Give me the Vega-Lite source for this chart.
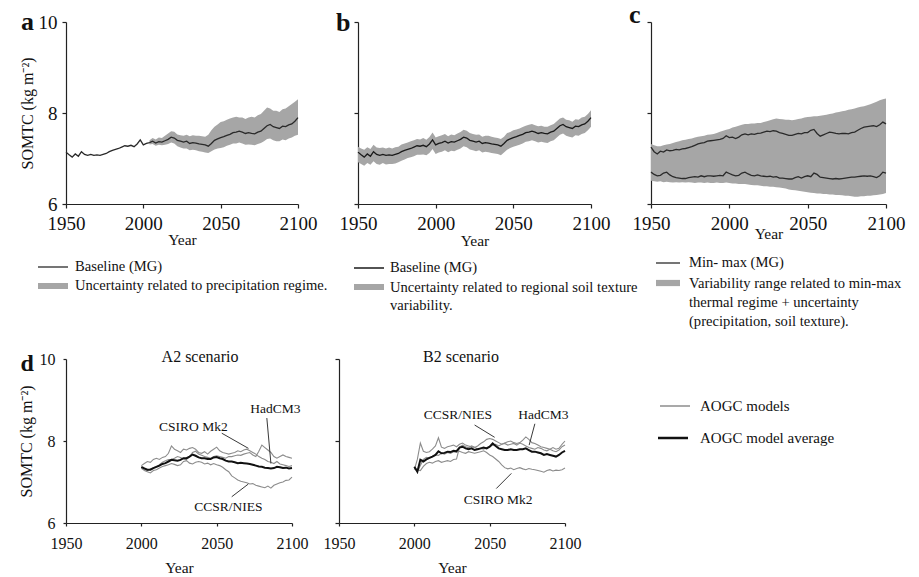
{
  "$schema": "https://vega.github.io/schema/vega-lite/v6.json",
  "background": "white",
  "padding": {"left": 18, "top": 2, "right": 5, "bottom": 0},
  "config": {
    "font": "Liberation Serif",
    "view": {"stroke": null},
    "axis": {"labelFont": "Liberation Serif", "titleFont": "Liberation Serif", "labelColor": "#111", "titleColor": "#111", "domainColor": "#222", "tickColor": "#222", "domainWidth": 1.2, "tickWidth": 1.2, "grid": false, "titleFontWeight": "normal", "labelFlush": false, "labelOverlap": false},
    "title": {"font": "Liberation Serif", "color": "#111"},
    "legend": {"labelFont": "Liberation Serif", "labelColor": "#111", "labelLimit": 400, "title": null, "orient": "none"}
  },
  "datasets": {
    "top": [
      {"t":1950,"m":7.14,"bl":6.92,"bh":7.26,"cx":7.25,"cn":6.70,"cl":6.51,"ch":7.32},
      {"t":1952,"m":7.08,"bl":6.88,"bh":7.22,"cx":7.15,"cn":6.65,"cl":6.50,"ch":7.29},
      {"t":1954,"m":7.03,"bl":6.84,"bh":7.19,"cx":7.10,"cn":6.62,"cl":6.49,"ch":7.27},
      {"t":1956,"m":7.10,"bl":6.90,"bh":7.25,"cx":7.16,"cn":6.63,"cl":6.50,"ch":7.27},
      {"t":1958,"m":7.05,"bl":6.86,"bh":7.21,"cx":7.14,"cn":6.68,"cl":6.48,"ch":7.29},
      {"t":1960,"m":7.15,"bl":6.94,"bh":7.30,"cx":7.19,"cn":6.70,"cl":6.49,"ch":7.31},
      {"t":1962,"m":7.09,"bl":6.88,"bh":7.24,"cx":7.17,"cn":6.64,"cl":6.48,"ch":7.32},
      {"t":1964,"m":7.07,"bl":6.86,"bh":7.23,"cx":7.18,"cn":6.60,"cl":6.47,"ch":7.34},
      {"t":1966,"m":7.09,"bl":6.90,"bh":7.24,"cx":7.20,"cn":6.58,"cl":6.48,"ch":7.36},
      {"t":1968,"m":7.07,"bl":6.87,"bh":7.22,"cx":7.19,"cn":6.57,"cl":6.47,"ch":7.38},
      {"t":1970,"m":7.08,"bl":6.88,"bh":7.24,"cx":7.21,"cn":6.56,"cl":6.48,"ch":7.40},
      {"t":1972,"m":7.07,"bl":6.88,"bh":7.22,"cx":7.22,"cn":6.56,"cl":6.47,"ch":7.41},
      {"t":1974,"m":7.09,"bl":6.89,"bh":7.25,"cx":7.24,"cn":6.58,"cl":6.48,"ch":7.43},
      {"t":1976,"m":7.11,"bl":6.92,"bh":7.26,"cx":7.26,"cn":6.59,"cl":6.47,"ch":7.44},
      {"t":1978,"m":7.15,"bl":6.95,"bh":7.31,"cx":7.29,"cn":6.60,"cl":6.46,"ch":7.46},
      {"t":1980,"m":7.18,"bl":6.98,"bh":7.33,"cx":7.32,"cn":6.59,"cl":6.47,"ch":7.48},
      {"t":1982,"m":7.20,"bl":7.01,"bh":7.35,"cx":7.34,"cn":6.62,"cl":6.47,"ch":7.49},
      {"t":1984,"m":7.22,"bl":7.03,"bh":7.38,"cx":7.35,"cn":6.60,"cl":6.46,"ch":7.50},
      {"t":1986,"m":7.25,"bl":7.05,"bh":7.40,"cx":7.38,"cn":6.62,"cl":6.47,"ch":7.52},
      {"t":1988,"m":7.28,"bl":7.08,"bh":7.43,"cx":7.39,"cn":6.62,"cl":6.46,"ch":7.53},
      {"t":1990,"m":7.27,"bl":7.08,"bh":7.42,"cx":7.40,"cn":6.61,"cl":6.46,"ch":7.54},
      {"t":1992,"m":7.29,"bl":7.09,"bh":7.45,"cx":7.41,"cn":6.62,"cl":6.47,"ch":7.56},
      {"t":1994,"m":7.26,"bl":7.07,"bh":7.41,"cx":7.42,"cn":6.63,"cl":6.46,"ch":7.59},
      {"t":1996,"m":7.32,"bl":7.12,"bh":7.47,"cx":7.44,"cn":6.62,"cl":6.46,"ch":7.61},
      {"t":1998,"m":7.41,"bl":7.21,"bh":7.57,"cx":7.50,"cn":6.70,"cl":6.47,"ch":7.63},
      {"t":2000,"m":7.30,"bl":7.10,"bh":7.46,"cx":7.46,"cn":6.67,"cl":6.46,"ch":7.65},
      {"t":2002,"m":7.33,"bl":7.13,"bh":7.49,"cx":7.47,"cn":6.64,"cl":6.45,"ch":7.68},
      {"t":2004,"m":7.35,"al":7.31,"ah":7.40,"bl":7.15,"bh":7.51,"cx":7.44,"cn":6.62,"cl":6.45,"ch":7.70},
      {"t":2006,"m":7.38,"al":7.32,"ah":7.45,"bl":7.18,"bh":7.54,"cx":7.47,"cn":6.63,"cl":6.44,"ch":7.72},
      {"t":2008,"m":7.34,"al":7.28,"ah":7.42,"bl":7.14,"bh":7.49,"cx":7.52,"cn":6.68,"cl":6.44,"ch":7.74},
      {"t":2010,"m":7.37,"al":7.30,"ah":7.46,"bl":7.17,"bh":7.53,"cx":7.54,"cn":6.70,"cl":6.44,"ch":7.76},
      {"t":2012,"m":7.36,"al":7.29,"ah":7.45,"bl":7.16,"bh":7.51,"cx":7.52,"cn":6.66,"cl":6.43,"ch":7.76},
      {"t":2014,"m":7.39,"al":7.30,"ah":7.50,"bl":7.19,"bh":7.55,"cx":7.54,"cn":6.63,"cl":6.42,"ch":7.77},
      {"t":2016,"m":7.42,"al":7.32,"ah":7.55,"bl":7.22,"bh":7.58,"cx":7.53,"cn":6.62,"cl":6.41,"ch":7.77},
      {"t":2018,"m":7.47,"al":7.35,"ah":7.60,"bl":7.27,"bh":7.63,"cx":7.55,"cn":6.64,"cl":6.41,"ch":7.78},
      {"t":2020,"m":7.45,"al":7.33,"ah":7.59,"bl":7.25,"bh":7.61,"cx":7.56,"cn":6.62,"cl":6.40,"ch":7.78},
      {"t":2022,"m":7.40,"al":7.27,"ah":7.53,"bl":7.20,"bh":7.56,"cx":7.58,"cn":6.61,"cl":6.39,"ch":7.80},
      {"t":2024,"m":7.38,"al":7.24,"ah":7.51,"bl":7.18,"bh":7.54,"cx":7.60,"cn":6.60,"cl":6.39,"ch":7.82},
      {"t":2026,"m":7.36,"al":7.22,"ah":7.50,"bl":7.16,"bh":7.52,"cx":7.59,"cn":6.61,"cl":6.38,"ch":7.84},
      {"t":2028,"m":7.38,"al":7.22,"ah":7.52,"bl":7.18,"bh":7.53,"cx":7.61,"cn":6.59,"cl":6.38,"ch":7.86},
      {"t":2030,"m":7.33,"al":7.18,"ah":7.49,"bl":7.13,"bh":7.48,"cx":7.60,"cn":6.60,"cl":6.37,"ch":7.88},
      {"t":2032,"m":7.35,"al":7.19,"ah":7.51,"bl":7.15,"bh":7.50,"cx":7.57,"cn":6.57,"cl":6.36,"ch":7.87},
      {"t":2034,"m":7.34,"al":7.18,"ah":7.50,"bl":7.14,"bh":7.50,"cx":7.55,"cn":6.57,"cl":6.35,"ch":7.86},
      {"t":2036,"m":7.32,"al":7.16,"ah":7.50,"bl":7.12,"bh":7.48,"cx":7.53,"cn":6.56,"cl":6.34,"ch":7.85},
      {"t":2038,"m":7.31,"al":7.15,"ah":7.49,"bl":7.11,"bh":7.46,"cx":7.51,"cn":6.55,"cl":6.32,"ch":7.85},
      {"t":2040,"m":7.30,"al":7.13,"ah":7.48,"bl":7.10,"bh":7.45,"cx":7.51,"cn":6.55,"cl":6.31,"ch":7.84},
      {"t":2042,"m":7.27,"al":7.12,"ah":7.52,"bl":7.07,"bh":7.43,"cx":7.53,"cn":6.58,"cl":6.30,"ch":7.85},
      {"t":2044,"m":7.33,"al":7.16,"ah":7.62,"bl":7.13,"bh":7.48,"cx":7.55,"cn":6.60,"cl":6.29,"ch":7.87},
      {"t":2046,"m":7.40,"al":7.20,"ah":7.70,"bl":7.19,"bh":7.56,"cx":7.54,"cn":6.57,"cl":6.28,"ch":7.88},
      {"t":2048,"m":7.43,"al":7.22,"ah":7.75,"bl":7.23,"bh":7.58,"cx":7.57,"cn":6.60,"cl":6.27,"ch":7.90},
      {"t":2050,"m":7.46,"al":7.23,"ah":7.80,"bl":7.26,"bh":7.62,"cx":7.57,"cn":6.62,"cl":6.26,"ch":7.91},
      {"t":2052,"m":7.48,"al":7.25,"ah":7.82,"bl":7.28,"bh":7.64,"cx":7.62,"cn":6.60,"cl":6.25,"ch":7.92},
      {"t":2054,"m":7.51,"al":7.28,"ah":7.85,"bl":7.30,"bh":7.66,"cx":7.64,"cn":6.68,"cl":6.24,"ch":7.93},
      {"t":2056,"m":7.53,"al":7.30,"ah":7.88,"bl":7.33,"bh":7.69,"cx":7.55,"cn":6.65,"cl":6.23,"ch":7.93},
      {"t":2058,"m":7.57,"al":7.33,"ah":7.90,"bl":7.37,"bh":7.72,"cx":7.49,"cn":6.59,"cl":6.23,"ch":7.94},
      {"t":2060,"m":7.58,"al":7.33,"ah":7.92,"bl":7.38,"bh":7.74,"cx":7.52,"cn":6.58,"cl":6.22,"ch":7.95},
      {"t":2062,"m":7.60,"al":7.35,"ah":7.90,"bl":7.40,"bh":7.76,"cx":7.55,"cn":6.57,"cl":6.22,"ch":7.96},
      {"t":2064,"m":7.58,"al":7.33,"ah":7.90,"bl":7.38,"bh":7.73,"cx":7.58,"cn":6.56,"cl":6.21,"ch":7.98},
      {"t":2066,"m":7.55,"al":7.30,"ah":7.87,"bl":7.35,"bh":7.71,"cx":7.57,"cn":6.55,"cl":6.21,"ch":7.99},
      {"t":2068,"m":7.57,"al":7.31,"ah":7.90,"bl":7.37,"bh":7.72,"cx":7.55,"cn":6.56,"cl":6.20,"ch":8.01},
      {"t":2070,"m":7.55,"al":7.30,"ah":7.92,"bl":7.35,"bh":7.70,"cx":7.54,"cn":6.55,"cl":6.20,"ch":8.02},
      {"t":2072,"m":7.54,"al":7.29,"ah":7.90,"bl":7.34,"bh":7.70,"cx":7.55,"cn":6.56,"cl":6.19,"ch":8.04},
      {"t":2074,"m":7.58,"al":7.32,"ah":7.95,"bl":7.38,"bh":7.73,"cx":7.55,"cn":6.57,"cl":6.18,"ch":8.05},
      {"t":2076,"m":7.60,"al":7.34,"ah":7.98,"bl":7.40,"bh":7.76,"cx":7.54,"cn":6.58,"cl":6.18,"ch":8.07},
      {"t":2078,"m":7.66,"al":7.38,"ah":8.05,"bl":7.46,"bh":7.82,"cx":7.57,"cn":6.59,"cl":6.17,"ch":8.08},
      {"t":2080,"m":7.72,"al":7.43,"ah":8.12,"bl":7.52,"bh":7.88,"cx":7.58,"cn":6.59,"cl":6.16,"ch":8.10},
      {"t":2082,"m":7.75,"al":7.44,"ah":8.10,"bl":7.55,"bh":7.90,"cx":7.62,"cn":6.60,"cl":6.16,"ch":8.12},
      {"t":2084,"m":7.70,"al":7.40,"ah":8.05,"bl":7.50,"bh":7.85,"cx":7.66,"cn":6.61,"cl":6.17,"ch":8.14},
      {"t":2086,"m":7.68,"al":7.38,"ah":8.05,"bl":7.48,"bh":7.84,"cx":7.69,"cn":6.62,"cl":6.17,"ch":8.15},
      {"t":2088,"m":7.66,"al":7.38,"ah":8.02,"bl":7.46,"bh":7.81,"cx":7.70,"cn":6.61,"cl":6.18,"ch":8.17},
      {"t":2090,"m":7.71,"al":7.42,"ah":8.08,"bl":7.51,"bh":7.86,"cx":7.71,"cn":6.62,"cl":6.18,"ch":8.19},
      {"t":2092,"m":7.70,"al":7.40,"ah":8.10,"bl":7.50,"bh":7.85,"cx":7.72,"cn":6.60,"cl":6.19,"ch":8.22},
      {"t":2094,"m":7.74,"al":7.44,"ah":8.15,"bl":7.54,"bh":7.90,"cx":7.70,"cn":6.58,"cl":6.20,"ch":8.25},
      {"t":2096,"m":7.76,"al":7.46,"ah":8.20,"bl":7.56,"bh":7.92,"cx":7.74,"cn":6.62,"cl":6.21,"ch":8.28},
      {"t":2098,"m":7.82,"al":7.50,"ah":8.25,"bl":7.62,"bh":7.98,"cx":7.80,"cn":6.70,"cl":6.22,"ch":8.30},
      {"t":2100,"m":7.90,"al":7.52,"ah":8.30,"bl":7.70,"bh":8.06,"cx":7.76,"cn":6.68,"cl":6.24,"ch":8.32}
    ],
    "bot": [
      {"t":2000,"a1":7.33,"a2":7.40,"a3":7.35,"aa":7.37,"b1":7.35,"b2":7.35,"b3":7.30,"ba":7.37},
      {"t":2002,"a1":7.30,"a2":7.45,"a3":7.28,"aa":7.33,"b1":7.30,"b2":7.25,"b3":7.55,"ba":7.25},
      {"t":2004,"a1":7.28,"a2":7.50,"a3":7.25,"aa":7.30,"b1":7.28,"b2":7.40,"b3":7.95,"ba":7.54},
      {"t":2006,"a1":7.32,"a2":7.48,"a3":7.22,"aa":7.30,"b1":7.38,"b2":7.55,"b3":7.75,"ba":7.50},
      {"t":2008,"a1":7.35,"a2":7.55,"a3":7.28,"aa":7.34,"b1":7.45,"b2":7.60,"b3":7.72,"ba":7.55},
      {"t":2010,"a1":7.38,"a2":7.58,"a3":7.30,"aa":7.37,"b1":7.48,"b2":7.58,"b3":7.74,"ba":7.59},
      {"t":2012,"a1":7.42,"a2":7.55,"a3":7.34,"aa":7.40,"b1":7.46,"b2":7.62,"b3":7.80,"ba":7.62},
      {"t":2014,"a1":7.48,"a2":7.60,"a3":7.38,"aa":7.44,"b1":7.50,"b2":7.66,"b3":7.88,"ba":7.66},
      {"t":2016,"a1":7.52,"a2":7.62,"a3":7.40,"aa":7.46,"b1":7.52,"b2":7.65,"b3":8.08,"ba":7.75},
      {"t":2018,"a1":7.55,"a2":7.70,"a3":7.42,"aa":7.50,"b1":7.48,"b2":7.70,"b3":7.85,"ba":7.70},
      {"t":2020,"a1":7.55,"a2":7.88,"a3":7.45,"aa":7.54,"b1":7.50,"b2":7.68,"b3":7.82,"ba":7.71},
      {"t":2022,"a1":7.58,"a2":7.80,"a3":7.43,"aa":7.53,"b1":7.52,"b2":7.72,"b3":7.86,"ba":7.74},
      {"t":2024,"a1":7.62,"a2":7.76,"a3":7.40,"aa":7.52,"b1":7.50,"b2":7.70,"b3":7.88,"ba":7.73},
      {"t":2026,"a1":7.60,"a2":7.72,"a3":7.42,"aa":7.54,"b1":7.55,"b2":7.74,"b3":7.90,"ba":7.76},
      {"t":2028,"a1":7.56,"a2":7.80,"a3":7.50,"aa":7.58,"b1":7.56,"b2":7.72,"b3":7.86,"ba":7.75},
      {"t":2030,"a1":7.55,"a2":7.78,"a3":7.52,"aa":7.58,"b1":7.85,"b2":7.75,"b3":7.92,"ba":7.84},
      {"t":2032,"a1":7.62,"a2":7.82,"a3":7.46,"aa":7.62,"b1":7.90,"b2":7.72,"b3":7.95,"ba":7.86},
      {"t":2034,"a1":7.72,"a2":7.84,"a3":7.44,"aa":7.67,"b1":7.86,"b2":7.70,"b3":7.90,"ba":7.82},
      {"t":2036,"a1":7.75,"a2":7.80,"a3":7.48,"aa":7.64,"b1":7.84,"b2":7.74,"b3":7.88,"ba":7.80},
      {"t":2038,"a1":7.68,"a2":7.72,"a3":7.50,"aa":7.60,"b1":7.88,"b2":7.72,"b3":7.86,"ba":7.82},
      {"t":2040,"a1":7.65,"a2":7.70,"a3":7.48,"aa":7.58,"b1":7.85,"b2":7.70,"b3":7.84,"ba":7.78},
      {"t":2042,"a1":7.62,"a2":7.74,"a3":7.44,"aa":7.58,"b1":7.80,"b2":7.72,"b3":7.88,"ba":7.80},
      {"t":2044,"a1":7.60,"a2":7.68,"a3":7.46,"aa":7.56,"b1":7.82,"b2":7.74,"b3":7.94,"ba":7.82},
      {"t":2046,"a1":7.58,"a2":7.75,"a3":7.42,"aa":7.56,"b1":7.80,"b2":7.76,"b3":7.98,"ba":7.84},
      {"t":2048,"a1":7.62,"a2":7.80,"a3":7.45,"aa":7.60,"b1":7.84,"b2":7.72,"b3":8.04,"ba":7.82},
      {"t":2050,"a1":7.64,"a2":7.85,"a3":7.42,"aa":7.61,"b1":7.86,"b2":7.66,"b3":8.06,"ba":7.86},
      {"t":2052,"a1":7.62,"a2":7.76,"a3":7.40,"aa":7.58,"b1":7.90,"b2":7.62,"b3":8.04,"ba":7.94},
      {"t":2054,"a1":7.60,"a2":7.72,"a3":7.36,"aa":7.56,"b1":7.92,"b2":7.56,"b3":8.00,"ba":7.88},
      {"t":2056,"a1":7.58,"a2":7.70,"a3":7.30,"aa":7.52,"b1":7.88,"b2":7.50,"b3":7.96,"ba":7.82},
      {"t":2058,"a1":7.62,"a2":7.68,"a3":7.25,"aa":7.50,"b1":7.92,"b2":7.42,"b3":7.92,"ba":7.80},
      {"t":2060,"a1":7.62,"a2":7.70,"a3":7.15,"aa":7.50,"b1":7.95,"b2":7.35,"b3":7.94,"ba":7.78},
      {"t":2062,"a1":7.64,"a2":7.72,"a3":7.10,"aa":7.48,"b1":7.98,"b2":7.32,"b3":7.90,"ba":7.78},
      {"t":2064,"a1":7.66,"a2":7.76,"a3":7.05,"aa":7.46,"b1":8.00,"b2":7.34,"b3":7.92,"ba":7.80},
      {"t":2066,"a1":7.65,"a2":7.74,"a3":7.02,"aa":7.47,"b1":7.96,"b2":7.30,"b3":7.94,"ba":7.78},
      {"t":2068,"a1":7.68,"a2":7.78,"a3":7.00,"aa":7.46,"b1":7.94,"b2":7.33,"b3":7.90,"ba":7.78},
      {"t":2070,"a1":7.70,"a2":7.80,"a3":6.98,"aa":7.45,"b1":7.96,"b2":7.35,"b3":7.95,"ba":7.80},
      {"t":2072,"a1":7.72,"a2":7.76,"a3":6.95,"aa":7.44,"b1":8.02,"b2":7.32,"b3":7.92,"ba":7.80},
      {"t":2074,"a1":7.66,"a2":7.72,"a3":6.96,"aa":7.42,"b1":8.10,"b2":7.30,"b3":7.88,"ba":7.82},
      {"t":2076,"a1":7.62,"a2":7.68,"a3":6.92,"aa":7.40,"b1":8.04,"b2":7.33,"b3":7.84,"ba":7.78},
      {"t":2078,"a1":7.75,"a2":7.62,"a3":6.90,"aa":7.38,"b1":7.96,"b2":7.31,"b3":7.82,"ba":7.74},
      {"t":2080,"a1":7.90,"a2":7.58,"a3":6.88,"aa":7.37,"b1":7.94,"b2":7.30,"b3":7.80,"ba":7.74},
      {"t":2082,"a1":7.84,"a2":7.55,"a3":6.86,"aa":7.35,"b1":7.90,"b2":7.28,"b3":7.84,"ba":7.72},
      {"t":2084,"a1":7.78,"a2":7.50,"a3":6.90,"aa":7.34,"b1":7.86,"b2":7.26,"b3":7.82,"ba":7.70},
      {"t":2086,"a1":7.72,"a2":7.48,"a3":6.85,"aa":7.33,"b1":7.84,"b2":7.24,"b3":7.78,"ba":7.66},
      {"t":2088,"a1":7.62,"a2":7.45,"a3":6.92,"aa":7.34,"b1":7.82,"b2":7.28,"b3":7.76,"ba":7.68},
      {"t":2090,"a1":7.58,"a2":7.50,"a3":6.95,"aa":7.37,"b1":7.80,"b2":7.30,"b3":7.80,"ba":7.66},
      {"t":2092,"a1":7.62,"a2":7.44,"a3":6.98,"aa":7.36,"b1":7.76,"b2":7.27,"b3":7.84,"ba":7.64},
      {"t":2094,"a1":7.66,"a2":7.42,"a3":7.00,"aa":7.34,"b1":7.74,"b2":7.29,"b3":7.80,"ba":7.62},
      {"t":2096,"a1":7.62,"a2":7.40,"a3":7.04,"aa":7.35,"b1":7.78,"b2":7.28,"b3":7.82,"ba":7.66},
      {"t":2098,"a1":7.60,"a2":7.38,"a3":7.05,"aa":7.33,"b1":7.86,"b2":7.30,"b3":7.92,"ba":7.72},
      {"t":2100,"a1":7.58,"a2":7.40,"a3":7.12,"aa":7.34,"b1":7.90,"b2":7.34,"b3":8.00,"ba":7.76}
    ],
    "annA": [
      {"x":2083.3,"y":8.56,"x2":2086,"y2":7.45},
      {"x":2053.4,"y":8.19,"x2":2071.1,"y2":7.82},
      {"x":2060,"y":6.64,"x2":2071,"y2":6.95}
    ],
    "labA": [
      {"x":2088.9,"y":8.78,"label":"HadCM3"},
      {"x":2034.5,"y":8.33,"label":"CSIRO Mk2"},
      {"x":2057.8,"y":6.39,"label":"CCSR/NIES"}
    ],
    "annB": [
      {"x":2040,"y":8.39,"x2":2053.3,"y2":8.09},
      {"x":2080,"y":8.42,"x2":2076.2,"y2":7.9},
      {"x":2054.4,"y":6.84,"x2":2064.4,"y2":7.21}
    ],
    "labB": [
      {"x":2028.9,"y":8.64,"label":"CCSR/NIES"},
      {"x":2085.6,"y":8.64,"label":"HadCM3"},
      {"x":2055.6,"y":6.56,"label":"CSIRO Mk2"}
    ]
  },
  "spacing": 20,
  "resolve": {"scale": {"color": "independent", "fill": "independent", "stroke": "independent"}, "legend": {"color": "independent", "fill": "independent", "stroke": "independent"}},
  "vconcat": [
    {
      "hconcat": [
        {
          "width": 232, "height": 182,
          "title": {"text": "a", "anchor": "start", "frame": "group", "dx": -45, "dy": 26, "fontSize": 26, "fontWeight": "bold"},
          "data": {"name": "top"},
          "layer": [
            {
              "mark": {"type": "area"},
              "encoding": {
                "x": {"field": "t", "type": "quantitative", "scale": {"domain": [1950, 2100], "nice": false, "zero": false},
                      "axis": {"values": [1950, 2000, 2050, 2100], "format": "d", "title": "Year", "labelFontSize": 19, "titleFontSize": 15.5, "tickSize": 4, "labelPadding": 6, "titlePadding": -1}},
                "y": {"field": "al", "type": "quantitative", "scale": {"domain": [6, 10], "nice": false, "zero": false},
                      "axis": {"values": [6, 8, 10], "title": "SOMTC (kg m⁻²)", "labelFontSize": 19, "titleFontSize": 16, "tickSize": 4, "labelPadding": 5, "titlePadding": 3}},
                "y2": {"field": "ah"},
                "fill": {"datum": "Uncertainty related to precipitation regime.", "type": "nominal",
                         "scale": {"range": ["#a6a6a6"]},
                         "legend": {"legendX": -28, "legendY": 249, "symbolType": "M-1,-0.2H1V0.2H-1Z", "symbolSize": 900, "symbolStrokeWidth": 0, "labelOffset": 7, "labelFontSize": 14.6}}
              }
            },
            {
              "mark": {"type": "line", "strokeWidth": 1.3},
              "encoding": {
                "x": {"field": "t", "type": "quantitative"},
                "y": {"field": "m", "type": "quantitative"},
                "color": {"datum": "Baseline (MG)", "type": "nominal", "scale": {"range": ["#2a2a2a"]},
                          "legend": {"legendX": -29, "legendY": 229, "symbolType": "stroke", "symbolSize": 900, "symbolStrokeWidth": 1.3, "labelOffset": 6, "labelFontSize": 14.6}}
              }
            }
          ]
        },
        {
          "width": 233, "height": 182,
          "title": {"text": "b", "anchor": "start", "frame": "group", "dx": -22, "dy": 19, "fontSize": 26, "fontWeight": "bold"},
          "data": {"name": "top"},
          "layer": [
            {
              "mark": {"type": "area"},
              "encoding": {
                "x": {"field": "t", "type": "quantitative", "scale": {"domain": [1950, 2100], "nice": false, "zero": false},
                      "axis": {"values": [1950, 2000, 2050, 2100], "format": "d", "title": "Year", "labelFontSize": 19, "titleFontSize": 15.5, "tickSize": 4, "labelPadding": 6, "titlePadding": 0}},
                "y": {"field": "bl", "type": "quantitative", "scale": {"domain": [6, 10], "nice": false, "zero": false},
                      "axis": {"values": [6, 8, 10], "labels": false, "title": null, "tickSize": 4}},
                "y2": {"field": "bh"},
                "fill": {"datum": "Uncertainty related to regional soil texture|variability.", "type": "nominal",
                         "scale": {"range": ["#a6a6a6"]},
                         "legend": {"legendX": -4, "legendY": 250, "symbolType": "M-1,-0.2H1V0.2H-1Z", "symbolSize": 900, "symbolStrokeWidth": 0, "labelOffset": 6, "labelFontSize": 14.6, "labelExpr": "split(datum.label, '|')", "labelBaseline": "alphabetic",
                                    "encode": {"labels": {"update": {"dy": {"value": 4.5}, "lineHeight": {"value": 18}}}}}}
              }
            },
            {
              "mark": {"type": "line", "strokeWidth": 1.3},
              "encoding": {
                "x": {"field": "t", "type": "quantitative"},
                "y": {"field": "m", "type": "quantitative"},
                "color": {"datum": "Baseline (MG)", "type": "nominal", "scale": {"range": ["#1a1a1a"]},
                          "legend": {"legendX": -5, "legendY": 230, "symbolType": "stroke", "symbolSize": 900, "symbolStrokeWidth": 1.5, "labelOffset": 5, "labelFontSize": 14.6}}
              }
            }
          ]
        },
        {
          "width": 235, "height": 182,
          "title": {"text": "c", "anchor": "start", "frame": "group", "dx": -22, "dy": 11, "fontSize": 26, "fontWeight": "bold"},
          "data": {"name": "top"},
          "layer": [
            {
              "mark": {"type": "area"},
              "encoding": {
                "x": {"field": "t", "type": "quantitative", "scale": {"domain": [1950, 2100], "nice": false, "zero": false},
                      "axis": {"values": [1950, 2000, 2050, 2100], "format": "d", "title": "Year", "labelFontSize": 19, "titleFontSize": 15.5, "tickSize": 4, "labelPadding": 6, "titlePadding": -7}},
                "y": {"field": "cl", "type": "quantitative", "scale": {"domain": [6, 10], "nice": false, "zero": false},
                      "axis": {"values": [6, 8, 10], "labels": false, "title": null, "tickSize": 4}},
                "y2": {"field": "ch"},
                "fill": {"datum": "Variability range related to min-max|thermal regime + uncertainty|(precipitation, soil texture).", "type": "nominal",
                         "scale": {"range": ["#a6a6a6"]},
                         "legend": {"legendX": 5, "legendY": 249, "symbolType": "M-1,-0.26H1V0.26H-1Z", "symbolSize": 576, "symbolStrokeWidth": 0, "labelOffset": 9, "labelFontSize": 14.6, "labelExpr": "split(datum.label, '|')", "labelBaseline": "alphabetic",
                                    "encode": {"labels": {"update": {"dy": {"value": 4.5}, "lineHeight": {"value": 19}}}}}}
              }
            },
            {
              "mark": {"type": "line", "strokeWidth": 1.3},
              "encoding": {
                "x": {"field": "t", "type": "quantitative"},
                "y": {"field": "cx", "type": "quantitative"},
                "color": {"datum": "Min- max (MG)", "type": "nominal", "scale": {"range": ["#2a2a2a"]},
                          "legend": {"legendX": 4, "legendY": 228, "symbolType": "stroke", "symbolSize": 576, "symbolStrokeWidth": 1.3, "labelOffset": 8, "labelFontSize": 14.6}}
              }
            },
            {
              "mark": {"type": "line", "strokeWidth": 1.3},
              "encoding": {
                "x": {"field": "t", "type": "quantitative"},
                "y": {"field": "cn", "type": "quantitative"},
                "color": {"datum": "Min- max (MG)", "type": "nominal"}
              }
            }
          ]
        }
      ],
      "bounds": "flush",
      "spacing": 60,
      "resolve": {"scale": {"color": "independent", "fill": "independent", "stroke": "independent"}, "legend": {"color": "independent", "fill": "independent", "stroke": "independent"}}
    },
    {
      "hconcat": [
        {
          "width": 226, "height": 164,
          "title": {"text": "A2 scenario", "anchor": "middle", "frame": "group", "dx": 21, "dy": 18, "fontSize": 16, "fontWeight": "normal"},
          "resolve": {"axis": {"x": "independent"}},
          "layer": [
            {
              "data": {"name": "bot"},
              "transform": [{"fold": ["a1", "a2", "a3"], "as": ["model", "v"]}],
              "mark": {"type": "line", "strokeWidth": 1.1},
              "encoding": {
                "x": {"field": "t", "type": "quantitative", "scale": {"domain": [1950, 2100], "nice": false, "zero": false},
                      "axis": {"values": [1950, 2000, 2050, 2100], "format": "d", "title": "Year", "labelFontSize": 16, "titleFontSize": 15.5, "tickSize": 3, "labelPadding": 9, "titlePadding": 9}},
                "y": {"field": "v", "type": "quantitative", "scale": {"domain": [6, 10], "nice": false, "zero": false},
                      "axis": {"values": [6, 8, 10], "title": "SOMTC (kg m⁻²)", "labelFontSize": 16, "titleFontSize": 16, "tickSize": 3, "labelPadding": 8, "titlePadding": 5}},
                "detail": {"field": "model", "type": "nominal"},
                "stroke": {"datum": "AOGC models", "type": "nominal", "scale": {"range": ["#8c8c8c"]}, "legend": null}
              }
            },
            {
              "data": {"name": "bot"},
              "mark": {"type": "line", "strokeWidth": 2},
              "encoding": {
                "x": {"field": "t", "type": "quantitative", "axis": null},
                "y": {"field": "aa", "type": "quantitative"},
                "color": {"datum": "AOGC model average", "type": "nominal", "scale": {"range": ["#111111"]}, "legend": null}
              }
            },
            {
              "data": {"name": "annA"},
              "mark": {"type": "rule", "color": "#222", "strokeWidth": 0.9},
              "encoding": {
                "x": {"field": "x", "type": "quantitative", "axis": null},
                "y": {"field": "y", "type": "quantitative"},
                "x2": {"field": "x2"},
                "y2": {"field": "y2"}
              }
            },
            {
              "data": {"name": "labA"},
              "mark": {"type": "text", "fontSize": 13.5, "color": "#111", "align": "center", "baseline": "middle"},
              "encoding": {
                "x": {"field": "x", "type": "quantitative",
                      "axis": {"orient": "top", "title": "d", "titleX": -46, "titleY": 11, "titleAlign": "left", "titleAngle": 0, "titleBaseline": "alphabetic", "titleFontSize": 24, "titleFontWeight": "bold", "labels": false, "ticks": false, "domain": false}},
                "y": {"field": "y", "type": "quantitative"},
                "text": {"field": "label", "type": "nominal"}
              }
            }
          ]
        },
        {
          "width": 226, "height": 164,
          "title": {"text": "B2 scenario", "anchor": "middle", "frame": "group", "dx": 9, "dy": 11, "fontSize": 16, "fontWeight": "normal"},
          "layer": [
            {
              "data": {"name": "bot"},
              "transform": [{"fold": ["b1", "b2", "b3"], "as": ["model", "v"]}],
              "mark": {"type": "line", "strokeWidth": 1.1},
              "encoding": {
                "x": {"field": "t", "type": "quantitative", "scale": {"domain": [1950, 2100], "nice": false, "zero": false},
                      "axis": {"values": [1950, 2000, 2050, 2100], "format": "d", "title": "Year", "labelFontSize": 16, "titleFontSize": 15.5, "tickSize": 3, "labelPadding": 9, "titlePadding": 9}},
                "y": {"field": "v", "type": "quantitative", "scale": {"domain": [6, 10], "nice": false, "zero": false},
                      "axis": {"values": [6, 8, 10], "labels": false, "title": null, "tickSize": 4}},
                "detail": {"field": "model", "type": "nominal"},
                "stroke": {"datum": "AOGC models", "type": "nominal", "scale": {"range": ["#8c8c8c"]},
                           "legend": {"legendX": 320, "legendY": 31, "symbolType": "stroke", "symbolSize": 900, "symbolStrokeWidth": 1.5, "labelOffset": 9, "labelFontSize": 15}}
              }
            },
            {
              "data": {"name": "bot"},
              "mark": {"type": "line", "strokeWidth": 2},
              "encoding": {
                "x": {"field": "t", "type": "quantitative"},
                "y": {"field": "ba", "type": "quantitative"},
                "color": {"datum": "AOGC model average", "type": "nominal", "scale": {"range": ["#111111"]},
                          "legend": {"legendX": 317.5, "legendY": 62.5, "symbolType": "stroke", "symbolSize": 900, "symbolStrokeWidth": 2.5, "labelOffset": 10.5, "labelFontSize": 15}}
              }
            },
            {
              "data": {"name": "annB"},
              "mark": {"type": "rule", "color": "#222", "strokeWidth": 0.9},
              "encoding": {
                "x": {"field": "x", "type": "quantitative"},
                "y": {"field": "y", "type": "quantitative"},
                "x2": {"field": "x2"},
                "y2": {"field": "y2"}
              }
            },
            {
              "data": {"name": "labB"},
              "mark": {"type": "text", "fontSize": 13.5, "color": "#111", "align": "center", "baseline": "middle"},
              "encoding": {
                "x": {"field": "x", "type": "quantitative"},
                "y": {"field": "y", "type": "quantitative"},
                "text": {"field": "label", "type": "nominal"}
              }
            }
          ]
        }
      ],
      "bounds": "flush",
      "spacing": 47,
      "resolve": {"scale": {"color": "independent", "fill": "independent", "stroke": "independent"}, "legend": {"color": "independent", "fill": "independent", "stroke": "independent"}}
    }
  ]
}
